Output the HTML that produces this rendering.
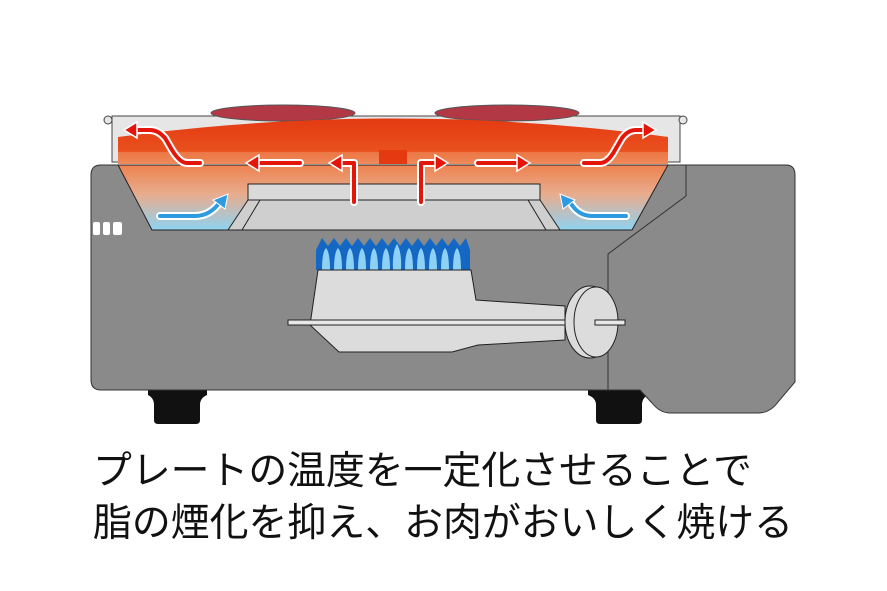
<!DOCTYPE html>
<html><head><meta charset="utf-8"><style>
html,body{margin:0;padding:0;background:#fff;}
svg{display:block}
</style></head><body>
<svg width="887" height="591" viewBox="0 0 887 591" xmlns="http://www.w3.org/2000/svg">
<defs>
<linearGradient id="pan" x1="0" y1="0" x2="0" y2="1">
<stop offset="0" stop-color="#ee8250"/><stop offset="0.45" stop-color="#e8ac8e"/><stop offset="1" stop-color="#8fd3f2"/>
</linearGradient>
<linearGradient id="plate" x1="0" y1="0" x2="0" y2="1">
<stop offset="0" stop-color="#e43a12"/><stop offset="0.7" stop-color="#e9501e"/><stop offset="1" stop-color="#ee8a5c"/>
</linearGradient>
</defs>
<path d="M148 388 H207 V395 Q200 398 200 405 V420 Q200 424 196 424 H158 Q154 424 154 420 V405 Q154 398 148 395Z" fill="#111"/>
<path d="M588 388 H648 V395 Q642 398 642 405 V420 Q642 424 638 424 H600 Q596 424 596 420 V405 Q596 398 588 395Z" fill="#111"/>
<path d="M600 165 H786 Q795 165 795 175 V382 L778 402 Q770 413 758 413 H670 Q660 413 652 403 L640 390 H600Z" fill="#8a8a8a" stroke="#333" stroke-width="1"/>
<path d="M101 165 H686 V196 L608 254 V390 H101 Q91 390 91 380 V175 Q91 165 101 165Z" fill="#8a8a8a" stroke="#333" stroke-width="1"/>
<rect x="93" y="222" width="7" height="13" rx="2" fill="#fff"/>
<rect x="103" y="222" width="7" height="13" rx="2" fill="#fff"/>
<rect x="113" y="222" width="9" height="13" rx="2" fill="#fff"/>
<rect x="112" y="116" width="568" height="46" fill="#e6e6e6" stroke="#444" stroke-width="1"/>
<circle cx="108" cy="120" r="4" fill="#e6e6e6" stroke="#444"/>
<circle cx="683" cy="120" r="4" fill="#e6e6e6" stroke="#444"/>
<ellipse cx="283" cy="113" rx="72" ry="8" fill="#b23846" stroke="#555"/>
<ellipse cx="507" cy="113" rx="72" ry="8" fill="#b23846" stroke="#555"/>
<path d="M118 165 H668 L632 230 H152Z" fill="url(#pan)" stroke="#222" stroke-width="1"/>
<path d="M248 184 H540 V200 L560 230 H228 L248 200Z" fill="#cfcfcf" stroke="#222"/>
<rect x="248" y="184" width="292" height="16" fill="#d9d9d9" stroke="#222"/>
<line x1="260" y1="200" x2="242" y2="230" stroke="#222"/>
<line x1="528" y1="200" x2="546" y2="230" stroke="#222"/>
<path d="M118 137 Q395 100 668 137 V164 H118Z" fill="url(#plate)"/>
<rect x="118" y="152" width="550" height="12" fill="#ef8a5a" opacity="0.6"/>
<rect x="379" y="150" width="28" height="14" fill="#e43a12"/>
<g fill="none" stroke-linecap="round" stroke-linejoin="round">
<g stroke="#fff" stroke-width="8">
<path d="M200 163 H187 Q180 163 172 150 L165 138 Q158 130 150 130 H134"/>
<path d="M300 163 H256"/>
<path d="M354 202 V163 H338"/>
<path d="M421 202 V163 H438"/>
<path d="M478 163 H520"/>
<path d="M584 163 H600 Q608 163 615 150 L622 138 Q628 130 636 130 H646"/>
</g>
<g stroke="#e4160a" stroke-width="4">
<path d="M200 163 H187 Q180 163 172 150 L165 138 Q158 130 150 130 H134"/>
<path d="M300 163 H256"/>
<path d="M354 202 V163 H338"/>
<path d="M421 202 V163 H438"/>
<path d="M478 163 H520"/>
<path d="M584 163 H600 Q608 163 615 150 L622 138 Q628 130 636 130 H646"/>
</g>
</g>
<g fill="#e4160a" stroke="#fff" stroke-width="1.5">
<path d="M124 130 L137 122 V138Z"/>
<path d="M246 163 L259 155 V171Z"/>
<path d="M329 163 L342 155 V171Z"/>
<path d="M448 163 L435 155 V171Z"/>
<path d="M530 163 L517 155 V171Z"/>
<path d="M656 130 L643 122 V138Z"/>
</g>
<g fill="none" stroke-linecap="round">
<path d="M160 216 H195 Q210 216 220 202" stroke="#fff" stroke-width="8"/>
<path d="M160 216 H195 Q210 216 220 202" stroke="#2e9be0" stroke-width="4"/>
<path d="M626 216 H592 Q578 216 570 202" stroke="#fff" stroke-width="8"/>
<path d="M626 216 H592 Q578 216 570 202" stroke="#2e9be0" stroke-width="4"/>
</g>
<path d="M228 194 L225 209 L213 200Z" fill="#2e9be0" stroke="#fff"/>
<path d="M560 194 L563 209 L575 200Z" fill="#2e9be0" stroke="#fff"/>
<path d="M316 270 V250 L322 238 L328 246 L334 238 L340 246 L346 238 L352 246 L358 238 L364 246 L370 238 L376 246 L382 238 L388 246 L394 238 L400 246 L406 238 L412 246 L418 238 L424 246 L430 238 L436 246 L442 238 L448 246 L454 238 L460 246 L466 238 L470 250 V270Z" fill="#1468c4"/>
<g fill="#8fd0f5">
<path d="M322 270 Q322 252 326 248 Q330 252 330 270Z"/><path d="M334 270 Q334 252 338 248 Q342 252 342 270Z"/>
<path d="M346 270 Q346 252 350 248 Q354 252 354 270Z"/><path d="M358 270 Q358 252 362 248 Q366 252 366 270Z"/>
<path d="M370 270 Q370 252 374 248 Q378 252 378 270Z"/><path d="M382 270 Q382 252 386 248 Q390 252 390 270Z"/>
<path d="M393 270 Q392 252 397 244 Q402 252 401 270Z"/><path d="M405 270 Q405 252 409 248 Q413 252 413 270Z"/>
<path d="M417 270 Q417 252 421 248 Q425 252 425 270Z"/><path d="M429 270 Q429 252 433 248 Q437 252 437 270Z"/>
<path d="M441 270 Q441 252 445 248 Q449 252 449 270Z"/><path d="M453 270 Q453 252 457 248 Q461 252 461 270Z"/>
</g>
<path d="M318 270 H471 L476 300 L565 306 V340 L478 345 L452 352 H339 L310 325 Z" fill="#dcdcdc" stroke="#222"/>
<rect x="288" y="320" width="290" height="5" fill="#e8e8e8" stroke="#222"/>
<ellipse cx="590" cy="322" rx="25" ry="36" fill="#dcdcdc" stroke="#222"/>
<ellipse cx="596" cy="322" rx="22" ry="35" fill="#dcdcdc" stroke="#222"/>
<rect x="595" y="320" width="30" height="5" fill="#e8e8e8" stroke="#222"/>
<g font-family="'Liberation Sans','Noto Sans CJK JP',sans-serif" font-size="39" fill="#111">
<text x="93" y="484" textLength="659" lengthAdjust="spacingAndGlyphs">プレートの温度を一定化させることで</text>
<text x="93" y="536" textLength="700" lengthAdjust="spacingAndGlyphs">脂の煙化を抑え、お肉がおいしく焼ける</text>
</g>
</svg>
</body></html>
